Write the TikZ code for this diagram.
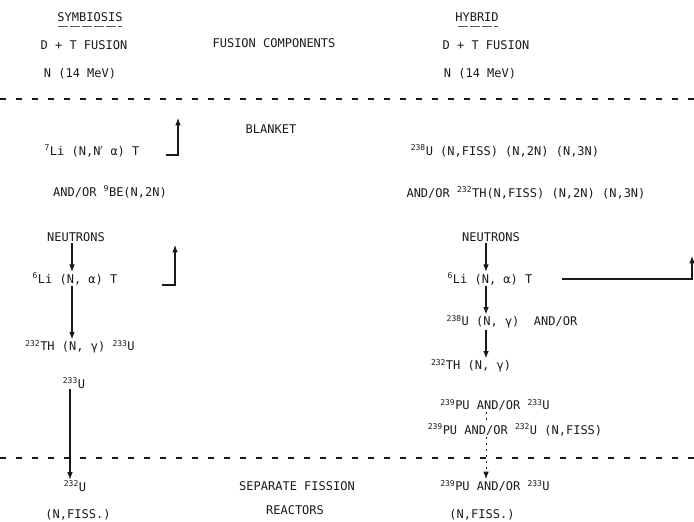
\documentclass[tikz,border=0pt]{standalone}
\usepackage{fontspec}
\setmainfont{DejaVu Sans Mono}
\usetikzlibrary{arrows.meta,positioning}
\definecolor{ink}{HTML}{1A1A1A}
\newcommand{\iso}[2]{\textsuperscript{#1}#2}
\tikzset{
  txt/.style={
    inner sep=1pt,
    text=ink,
    font=\fontsize{12}{14}\selectfont
  },
  flowarrow/.style={-{Latex[length=2.6mm,width=2mm]}, line width=1.1pt, draw=ink},
  feedarrow/.style={-{Latex[length=2.6mm,width=2mm]}, line width=1.1pt, draw=ink},
  dotarrow/.style={-{Latex[length=2.6mm,width=2mm]}, line width=1pt, draw=ink, dash pattern=on 2pt off 4pt},
  zoneline/.style={line width=1.4pt, draw=ink, dash pattern=on 6pt off 10pt},
  headline/.style={line width=0.7pt, draw=ink!70, dash pattern=on 10pt off 2pt}
}

\begin{document}
\begin{tikzpicture}[x=1pt,y=-1pt]
\useasboundingbox (0,0) rectangle (694,522);

\coordinate (lcol) at (72,0);
\coordinate (dcol) at (70,0);
\coordinate (rcol) at (486,0);

\node[txt] (symb) at (90,17) {SYMBIOSIS};
\node[txt] (dtl) at (84,45) {D + T FUSION};
\node[txt] (nl) at (80,74) {N (14 MeV)};
\node[txt] (comp) at (274,43) {FUSION COMPONENTS};
\node[txt] (hyb) at (477,17) {HYBRID};
\node[txt] (dtr) at (486,45) {D + T FUSION};
\node[txt] (nr) at (480,74) {N (14 MeV)};

\node[txt] (blanket) at (271,129) {BLANKET};
\node[txt] (li7) at (92,151) {\iso{7}{Li} (N,N$'$ α) T};
\node[txt] (be9) at (110,192) {AND/OR \iso{9}{BE}(N,2N)};
\node[txt] (u238) at (505,151) {\iso{238}{U} (N,FISS) (N,2N) (N,3N)};
\node[txt] (th232) at (526,193) {AND/OR \iso{232}{TH}(N,FISS) (N,2N) (N,3N)};

\node[txt] (neutl) at (76,237) {NEUTRONS};
\node[txt] (li6l) at (75,279) {\iso{6}{Li} (N, α) T};
\node[txt] (thl) at (80,347) {\iso{232}{TH} (N, γ) \iso{233}{U}};
\node[txt] (u233l) at (74,383) {\iso{233}{U}};
\node[txt] (u232l) at (75,486) {\iso{232}{U}};
\node[txt] (fissl) at (78,515) {(N,FISS.)};

\node[txt] (sep) at (297,486) {SEPARATE FISSION};
\node[txt] (reac) at (295,510) {REACTORS};

\node[txt] (neutr) at (491,237) {NEUTRONS};
\node[txt] (li6r) at (490,279) {\iso{6}{Li} (N, α) T};
\node[txt] (u238r) at (512,322) {\iso{238}{U} (N, γ)\ \ AND/OR};
\node[txt] (thr) at (471,366) {\iso{232}{TH} (N, γ)};
\node[txt] (pu1) at (495,405) {\iso{239}{PU} AND/OR \iso{233}{U}};
\node[txt] (pu2) at (515,430) {\iso{239}{PU} AND/OR \iso{232}{U} (N,FISS)};
\node[txt] (pur) at (495,486) {\iso{239}{PU} AND/OR \iso{233}{U}};
\node[txt] (fissr) at (482,515) {(N,FISS.)};

\coordinate (from7) at (166,155);
\coordinate (up7) at (178,118);
\coordinate (from6) at (162,285);
\coordinate (up6) at (175,245);
\coordinate (from6r) at (562,279);
\coordinate (upr) at (692,256);

\draw[headline] (symb.south west) ++(2,4) -- ([shift={(-2,4)}]symb.south east);
\draw[headline] (hyb.south west) ++(4,4) -- ([shift={(-2,4)}]hyb.south east);

\draw[zoneline] (0,99) -- (694,99);
\draw[zoneline] (0,458) -- (694,458);

\draw[feedarrow] (from7) -| (up7);
\draw[feedarrow] (from6) -| (up6);
\draw[feedarrow] (from6r) -| (upr);

\draw[flowarrow] (neutl.south -| lcol) -- (li6l.north -| lcol);
\draw[flowarrow] (li6l.south -| lcol) -- (thl.north -| lcol);
\draw[flowarrow] (u233l.south -| dcol) -- (u232l.north -| dcol);

\draw[flowarrow] (neutr.south -| rcol) -- (li6r.north -| rcol);
\draw[flowarrow] (li6r.south -| rcol) -- (u238r.north -| rcol);
\draw[flowarrow] (u238r.south -| rcol) -- (thr.north -| rcol);
\draw[dotarrow, -] (pu1.south -| rcol) -- (pu2.north -| rcol);
\draw[dotarrow] (pu2.south -| rcol) -- (pur.north -| rcol);
\end{tikzpicture}
\end{document}
